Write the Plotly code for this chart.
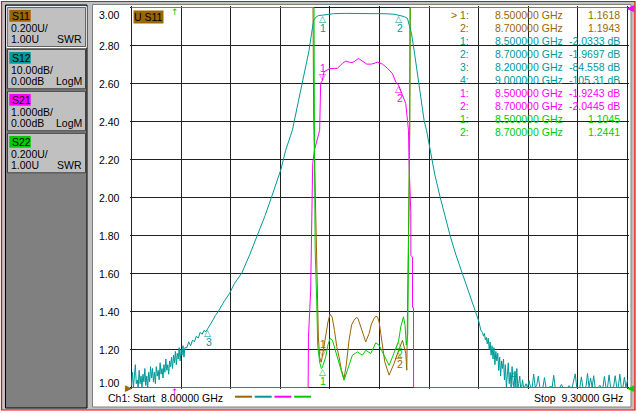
import numpy as np
import plotly.graph_objects as go

# ---- sweep / channel setup ----
start_ghz = 8.0
stop_ghz = 9.3
n_div = 10

trace_names = ['S11', 'S12', 'S21', 'S22']
trace_formats = ['SWR', 'LogM', 'LogM', 'SWR']
scale_per_div = [0.2, 10.0, 1.0, 0.2]
ref_values = [1.0, 0.0, 0.0, 1.0]
ref_positions = [0, 10, 10, 0]   # graticule division of the reference line

# ---- S11, SWR ----
s11_freq = [8.000, 8.4757, 8.4775, 8.4835, 8.4854, 8.4898, 8.4932, 8.4972, 8.5000, 8.5090,
            8.5150, 8.5203, 8.5260, 8.5320, 8.5380, 8.5439, 8.5500, 8.5570, 8.5630, 8.5701,
            8.5770, 8.5832, 8.5890, 8.5937, 8.5990, 8.6053, 8.6139, 8.6226, 8.6290, 8.6357,
            8.6400, 8.6446, 8.6490, 8.6533, 8.6585, 8.6638, 8.6751, 8.6882, 8.7000, 8.7102,
            8.7189, 8.7215, 8.7241, 8.7294, 8.7307, 9.300]
s11_swr = [12.5, 4.80, 2.417, 1.880, 1.565, 1.265, 1.159, 1.133, 1.1618, 1.275,
           1.345, 1.386, 1.370, 1.300, 1.215, 1.161, 1.095, 1.047, 1.120, 1.249,
           1.330, 1.354, 1.368, 1.363, 1.330, 1.284, 1.240, 1.284, 1.335, 1.363,
           1.375, 1.372, 1.345, 1.284, 1.210, 1.135, 1.065, 1.126, 1.1943, 1.249,
           1.179, 1.091, 1.513, 2.354, 4.60, 14.0]

# ---- S12, LogM dB ----
s12_low_noise_db = [-99.5, -96.0, -100.5, -97.5, -94.0, -99.0, -98.0, -101.0, -95.5, -99.0,
                    -97.0, -100.0, -96.5, -98.5, -95.0, -99.5, -97.0, -100.0, -96.0, -98.5,
                    -94.5, -97.5, -95.0, -98.5, -96.0, -99.0, -94.5, -97.0, -95.5, -98.0,
                    -93.5, -96.5, -95.0, -97.5, -94.0, -96.0, -92.5, -95.5, -94.0, -96.5,
                    -93.0, -94.5, -92.0, -95.0, -91.5, -93.5, -90.5, -94.0, -91.0, -92.5,
                    -89.5, -93.0, -90.0, -91.5, -89.0, -92.0, -89.5]
s12_skirt_freq = [8.145, 8.150, 8.155, 8.160, 8.165, 8.170, 8.175, 8.180, 8.185, 8.190,
                  8.195, 8.200, 8.205, 8.210, 8.215, 8.220, 8.228, 8.240, 8.257, 8.270,
                  8.289, 8.310, 8.331, 8.350, 8.367, 8.380, 8.392, 8.404, 8.4216, 8.438,
                  8.4565, 8.465, 8.472, 8.4775, 8.485, 8.4906, 8.500, 8.515, 8.530, 8.560,
                  8.600, 8.640, 8.670, 8.690, 8.700, 8.715, 8.7233, 8.7302, 8.7338, 8.7406,
                  8.7496, 8.7582, 8.7669, 8.7732, 8.7826, 8.795, 8.8089, 8.820, 8.835, 8.850,
                  8.8677, 8.885, 8.9025, 8.910, 8.9156]
s12_skirt_db = [-89.5, -88.0, -89.0, -87.5, -88.0, -86.5, -87.0, -85.5, -86.0, -85.0,
                -85.3, -84.558, -83.5, -83.0, -82.0, -81.0, -79.9, -77.8, -75.2, -72.6,
                -69.9, -65.0, -59.9, -54.8, -49.9, -45.8, -42.5, -37.6, -32.3, -24.4,
                -15.7, -11.5, -6.8, -3.3, -2.4, -2.1, -2.0333, -1.75, -1.62, -1.55,
                -1.55, -1.58, -1.65, -1.8, -1.9697, -2.4, -2.9, -5.1, -6.8, -11.2,
                -17.3, -23.5, -29.7, -32.3, -37.6, -44.0, -49.9, -54.5, -60.0, -65.0,
                -70.0, -75.0, -80.0, -82.5, -84.9]
s12_high_noise_db = [-85.5, -86.5, -85.8, -87.5, -86.8, -88.5, -87.0, -90.0, -88.0, -91.5,
                     -89.0, -92.5, -89.5, -94.0, -90.5, -93.0, -91.0, -95.5, -92.0, -97.0,
                     -93.0, -95.0, -92.5, -98.0, -94.0, -100.5, -95.5, -93.5, -99.0, -96.0,
                     -101.0, -94.5, -98.5, -102.0, -96.0, -100.5, -95.0, -103.0, -99.0, -97.0,
                     -101.5, -104.0, -98.0, -102.5, -100.5]
s12_tail_db = [-99.0, -101.5, -98.2, -102.0, -100.8, -96.5, -101.7, -99.3, -97.0, -102.3,
               -100.6, -101.4, -97.4, -102.8, -100.2, -103.0, -99.6, -101.9, -96.8, -102.5,
               -100.4, -103.3, -101.0, -99.2, -102.7, -104.0, -100.3, -102.2, -99.5, -103.5,
               -101.2, -97.8, -96.4, -102.6, -100.7, -103.1, -97.2, -101.6, -102.9, -99.8,
               -96.3, -101.3, -97.5, -102.4, -96.9, -103.6, -100.9, -102.1, -99.4, -103.2,
               -101.1, -97.1, -102.6, -100.5, -96.7, -103.0, -101.8, -99.7, -96.9, -102.4,
               -100.6, -96.5, -103.4, -101.2, -97.3, -102.5, -98.0]

# ---- S21, LogM dB ----
s21_freq = [8.000, 8.4630, 8.4638, 8.4696, 8.4749, 8.4793, 8.4932, 8.4958, 8.5000, 8.5045,
            8.5203, 8.5397, 8.5528, 8.5615, 8.5746, 8.5832, 8.5948, 8.6053, 8.6166, 8.6289,
            8.6446, 8.6577, 8.6709, 8.6840, 8.6926, 8.7000, 8.7102, 8.7189, 8.7233, 8.7259,
            8.7275, 8.7320, 8.7322, 8.7364, 8.7366, 8.7391, 8.7393, 9.300]
s21_db = [-45.0, -12.0, -8.68, -7.44, -4.10, -3.76, -3.23, -1.99, -1.9243, -1.69,
          -1.605, -1.60, -1.47, -1.41, -1.45, -1.43, -1.34, -1.41, -1.49, -1.49,
          -1.44, -1.49, -1.60, -1.74, -1.96, -2.0445, -2.31, -2.53, -2.97, -3.23,
          -4.10, -5.39, -6.52, -6.57, -7.89, -7.90, -12.0, -45.0]

# ---- S22, SWR ----
s22_freq = [8.000, 8.4784, 8.4796, 8.4814, 8.4854, 8.4880, 8.4932, 8.4977, 8.5000, 8.5090,
            8.5150, 8.5203, 8.5266, 8.5352, 8.5483, 8.5570, 8.5701, 8.5790, 8.5922, 8.6053,
            8.6139, 8.6270, 8.6402, 8.6488, 8.6619, 8.6751, 8.6840, 8.6950, 8.7000, 8.7057,
            8.7128, 8.7170, 8.7202, 8.7240, 8.7267, 8.7286, 8.7301, 9.300]
s22_swr = [15.0, 4.50, 2.248, 1.723, 1.459, 1.223, 1.133, 1.100, 1.1045, 1.161,
           1.225, 1.258, 1.249, 1.187, 1.091, 1.038, 1.117, 1.170, 1.187, 1.170,
           1.196, 1.179, 1.235, 1.223, 1.170, 1.117, 1.161, 1.220, 1.2441, 1.319,
           1.372, 1.328, 1.223, 1.280, 1.722, 2.248, 4.80, 16.0]

# ---- marker readout ----
marker_trace = ['S11', 'S11', 'S12', 'S12', 'S12', 'S12', 'S21', 'S21', 'S22', 'S22']
marker_num = [1, 2, 1, 2, 3, 4, 1, 2, 1, 2]
marker_freq = [8.5, 8.7, 8.5, 8.7, 8.2, 9.0, 8.5, 8.7, 8.5, 8.7]
marker_val = [1.1618, 1.1943, -2.0333, -1.9697, -84.558, -105.31, -1.9243, -2.0445, 1.1045, 1.2441]
active_marker = ('S11', 1)
offscreen_arrow_ghz = [8.113, 8.113]
offscreen_arrow_trace = ['S22', 'S21']

# S12 sweep segments
s12_freq = np.concatenate([np.linspace(8.0, 8.14, len(s12_low_noise_db)), s12_skirt_freq,
                           np.linspace(8.92, 9.03, len(s12_high_noise_db)),
                           np.linspace(9.034, 9.30, len(s12_tail_db))])
s12_db = np.concatenate([s12_low_noise_db, s12_skirt_db, s12_high_noise_db, s12_tail_db])

trace_data = {'S11': (s11_freq, s11_swr), 'S12': (s12_freq, s12_db),
              'S21': (s21_freq, s21_db), 'S22': (s22_freq, s22_swr)}

# ---- styling ----
FONT = 'Liberation Sans, Arial, sans-serif'
FS = 10.5
colors = {'S11': '#996600', 'S12': '#009999', 'S21': '#ff00ff', 'S22': '#00cc00'}
GRID = '#202020'
W, H = 637, 414
# plot area 130..629 x 6..389, graticule on pixel centres 131.5..627.5 x 7.5..387.5
ML, MR, MT, MB = 130, 8, 6, 25
PW, PH = W - ML - MR, H - MT - MB
EDGE = 1.5


def px(x):
    return (x - ML) / PW


def py(y):
    return (H - MB - y) / PH


def yname(k):
    return 'y' if k == 0 else 'y%d' % (k + 1)


def note(text, x, y, color='black', xanchor='left', size=FS, **kw):
    return dict(text=text, x=px(x), y=py(y), xref='paper', yref='paper', showarrow=False,
                xanchor=xanchor, yanchor='middle',
                font=dict(family=FONT, size=size, color=color), **kw)


ranges = []
for k in range(4):
    lo = ref_values[k] - ref_positions[k] * scale_per_div[k]
    hi = lo + n_div * scale_per_div[k]
    ranges.append((lo, hi))

fig = go.Figure()
for k, name in enumerate(trace_names):
    f, v = trace_data[name]
    lo, hi = ranges[k]
    fig.add_trace(go.Scatter(x=f, y=np.clip(v, lo, hi), mode='lines', yaxis=yname(k),
                             line=dict(color=colors[name], width=1),
                             hoverinfo='skip', showlegend=False))

xpad = EDGE * (stop_ghz - start_ghz) / (PW - 2 * EDGE)
layout = dict(
    width=W, height=H, margin=dict(l=ML, r=MR, t=MT, b=MB, pad=0),
    paper_bgcolor='white', plot_bgcolor='white',
    font=dict(family=FONT, size=FS, color='black'),
    xaxis=dict(range=[start_ghz - xpad, stop_ghz + xpad], tick0=start_ghz,
               dtick=(stop_ghz - start_ghz) / n_div, showgrid=True, gridcolor=GRID,
               gridwidth=1, showticklabels=False, ticks='', zeroline=False, showline=False),
)
for k in range(4):
    lo, hi = ranges[k]
    pad = EDGE * (hi - lo) / (PH - 2 * EDGE)
    ax = dict(range=[lo - pad, hi + pad], showticklabels=False, ticks='', zeroline=False,
              showline=False, showgrid=(k == 0))
    if k == 0:
        ax.update(tick0=lo, dtick=scale_per_div[0], gridcolor=GRID, gridwidth=1)
        layout['yaxis'] = ax
    else:
        ax.update(overlaying='y', visible=False)
        layout['yaxis%d' % (k + 1)] = ax
fig.update_layout(**layout)

shapes = []
# window frame
shapes.append(dict(type='rect', xref='paper', yref='paper', x0=px(1.5), x1=px(635), y0=py(410),
                   y1=py(1.5), fillcolor='#c0c0c0', line=dict(color='#ff0000', width=1.2), layer='below'))
# left panel
shapes.append(dict(type='rect', xref='paper', yref='paper', x0=px(5.5), x1=px(87), y0=py(408),
                   y1=py(5), fillcolor='#808080', line=dict(color='#000000', width=1), layer='below'))
# chart panel
shapes.append(dict(type='rect', xref='paper', yref='paper', x0=px(92.5), x1=px(631), y0=py(407),
                   y1=py(4.5), fillcolor='white', line=dict(color='#808080', width=1), layer='below'))
# graticule frame
shapes.append(dict(type='rect', xref='x', yref='y', x0=start_ghz, x1=stop_ghz,
                   y0=ranges[0][0], y1=ranges[0][1], line=dict(color=GRID, width=1), layer='below'))

annotations = []
# channel buttons
for k, name in enumerate(trace_names):
    top = 7.3 + 42 * k
    shapes.append(dict(type='rect', xref='paper', yref='paper', x0=px(7.5), x1=px(85.5),
                       y0=py(top + 39.5), y1=py(top), fillcolor='#c0c0c0',
                       line=dict(color='#404040', width=1)))
    if (name, 1) == active_marker:
        shapes.append(dict(type='rect', xref='paper', yref='paper', x0=px(6.8), x1=px(86.3),
                           y0=py(top + 40.2), y1=py(top - 0.7), line=dict(color='white', width=1)))
    shapes.append(dict(type='rect', xref='paper', yref='paper', x0=px(9.3), x1=px(30.7),
                       y0=py(top + 14.4), y1=py(top + 2.7), fillcolor=colors[name], line=dict(width=0)))
    annotations.append(note(name, 9.8, top + 8.7))
    if trace_formats[k] == 'SWR':
        sc = '%.3fU/' % scale_per_div[k]
        rf = '%.2fU' % ref_values[k]
    else:
        sc = '%#.4gdB/' % scale_per_div[k]
        rf = '%.2fdB' % ref_values[k]
    annotations.append(note(sc, 9.3, top + 21))
    annotations.append(note(rf, 9.3, top + 32))
    annotations.append(note(trace_formats[k], 83.5, top + 32, xanchor='right'))

# y tick labels (S11 scale)
lo0, hi0 = ranges[0]
for i in range(n_div + 1):
    v = lo0 + i * scale_per_div[0]
    shift = 4.5 if i == 0 else (-7.5 if i == n_div else 0)
    annotations.append(dict(text='%.2f' % v, x=px(97), xref='paper', y=v, yref='y', yshift=shift,
                            showarrow=False, xanchor='left', yanchor='middle',
                            font=dict(family=FONT, size=FS, color='black')))

# active trace label
annotations.append(note('U ' + active_marker[0], 133.3, 17.5, bgcolor=colors[active_marker[0]], borderpad=0))

# marker readout table
for i in range(len(marker_trace)):
    name = marker_trace[i]
    k = trace_names.index(name)
    y = 15 + 12.96 * i
    num = '%d:' % marker_num[i]
    if (name, marker_num[i]) == active_marker:
        num = '> ' + num
    val = '%.5g' % marker_val[i]
    if trace_formats[k] == 'LogM':
        val += ' dB'
    annotations.append(note(num, 471, y, colors[name], xanchor='right'))
    annotations.append(note('%.6f GHz' % marker_freq[i], 492.5, y, colors[name]))
    annotations.append(note(val, 621.5, y, colors[name], xanchor='right'))

# marker glyphs on the traces
down_markers = {('S11', 1), ('S21', 1)}
for i in range(len(marker_trace)):
    name = marker_trace[i]
    k = trace_names.index(name)
    lo, hi = ranges[k]
    v = marker_val[i]
    clamped = v < lo or v > hi
    down = (name, marker_num[i]) in down_markers
    glyph = '\u25bd' if down else '\u25b3'
    if down or clamped:
        gs, ls = 4, 13
    else:
        gs, ls = -4, -13
    base = dict(x=marker_freq[i], xref='x', y=min(max(v, lo), hi), yref=yname(k), showarrow=False,
                xanchor='center', yanchor='middle')
    annotations.append(dict(base, text=glyph, yshift=gs,
                            font=dict(family='DejaVu Sans', size=9, color=colors[name])))
    annotations.append(dict(base, text=str(marker_num[i]), yshift=ls, xshift=1,
                            font=dict(family=FONT, size=FS, color=colors[name])))

# reference level pointers
for k, name in enumerate(trace_names):
    left = (k == 0)
    annotations.append(dict(text='\u25b6' if left else '\u25c0', x=px(128) if left else px(630.5),
                            xref='paper', y=ref_values[k], yref=yname(k), showarrow=False,
                            xanchor='center', yanchor='middle',
                            font=dict(family='DejaVu Sans', size=9, color=colors[name])))

# off-screen marker arrows
for f, name in zip(offscreen_arrow_ghz, offscreen_arrow_trace):
    k = trace_names.index(name)
    at_top = ref_positions[k] == 0
    annotations.append(dict(text='\u2191', x=f, xref='x', y=py(11.5) if at_top else py(391.5),
                            yref='paper', showarrow=False, xanchor='center', yanchor='middle',
                            font=dict(family='DejaVu Sans', size=9, color=colors[name])))

# status line
annotations.append(note('Ch1: Start  %.5f GHz' % start_ghz, 106, 398))
annotations.append(note('Stop  %.5f GHz' % stop_ghz, 624.5, 398, xanchor='right'))
for k, name in enumerate(trace_names):
    x0 = 235 + 19.7 * k
    shapes.append(dict(type='line', xref='paper', yref='paper', x0=px(x0), x1=px(x0 + 17),
                       y0=py(396.7), y1=py(396.7), line=dict(color=colors[name], width=2)))

fig.update_layout(shapes=shapes, annotations=annotations)
fig.write_html("out.html", config={'displayModeBar': False},
               post_script="document.body.style.margin='0';")
